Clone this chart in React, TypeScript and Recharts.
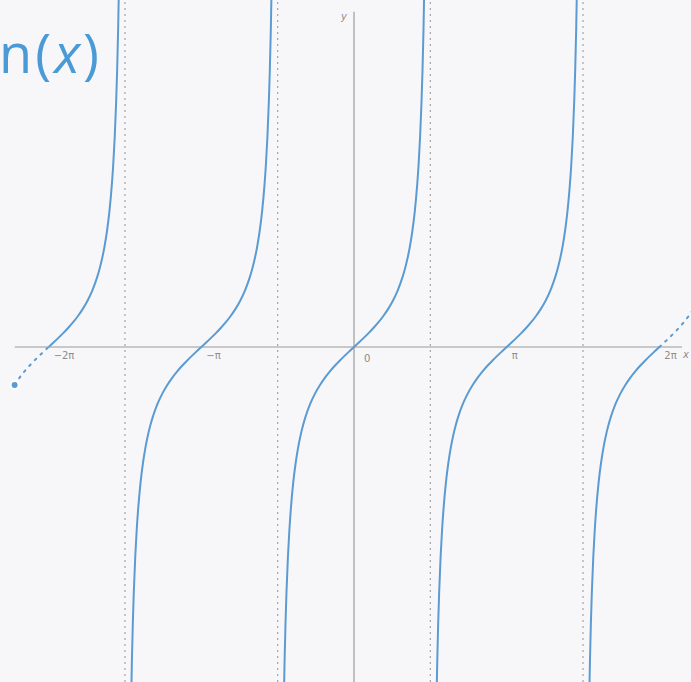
import React from 'react';
import { LineChart, Line, XAxis, YAxis, ReferenceLine, ReferenceDot } from 'recharts';

const PI = Math.PI;

// Tabulated tan(u) on the right half of one branch (u from 0 toward π/2).
const halfOffsets = [0, 0.1, 0.2, 0.3, 0.4, 0.5, 0.6, 0.7, 0.8, 0.9, 1.0, 1.05, 1.1, 1.15, 1.2, 1.25, 1.3, 1.33, 1.36, 1.39, 1.41, 1.43, 1.45, 1.47];
const halfValues = [0, 0.1003, 0.2027, 0.3093, 0.4228, 0.5463, 0.6841, 0.8423, 1.0296, 1.2602, 1.5574, 1.7433, 1.9648, 2.2345, 2.5722, 3.0096, 3.6021, 4.072, 4.673, 5.471, 6.165, 7.056, 8.238, 9.887];

// Branch centres, asymptotes and tick positions in multiples of π.
const branchCenters = [-2, -1, 0, 1, 2];
const asymptotes = [-1.5, -0.5, 0.5, 1.5];
const tickMultiples = [-2, -1, 0, 1, 2];
const tickLabels = ['−2π', '−π', '0', 'π', '2π'];

const xDomain: [number, number] = [-7.284, 6.934];
const yDomain: [number, number] = [-7.444, 7.711];
const xAxisSpan = [-6.98, 6.75];
const yAxisSpan = [-7.444, 7.45];
const dottedStart = -6.98;

const W = 691;
const H = 682;
const CURVE = '#5b9bd2';
const AXIS = '#9a9a9a';

type Pt = { x: number; y: number };

function branch(center: number): Pt[] {
  const left: Pt[] = [];
  for (let i = halfOffsets.length - 1; i > 0; i--) {
    left.push({ x: center * PI - halfOffsets[i], y: -halfValues[i] });
  }
  const right: Pt[] = halfOffsets.map((u, i) => ({ x: center * PI + u, y: halfValues[i] }));
  return [...left, ...right];
}

const solidSegments: Pt[][] = branchCenters.map((c) => {
  const pts = branch(c);
  if (c === -2) return pts.filter((p) => p.x >= c * PI - 1e-9);
  if (c === 2) return pts.filter((p) => p.x <= c * PI + 1e-9);
  return pts;
});

const dottedSegments: Pt[][] = [
  branch(-2).filter((p) => p.x <= -2 * PI + 1e-9 && p.x >= dottedStart - 0.01),
  branch(2).filter((p) => p.x >= 2 * PI - 1e-9),
];

const TickText = (label: string, dx: number, dy: number) => (props: any) => {
  const vb = props.viewBox || {};
  const cx = (vb.x ?? 0) + (vb.width ?? 0) / 2;
  const cy = (vb.y ?? 0) + (vb.height ?? 0) / 2;
  return (
    <text x={cx + dx} y={cy + dy} fontSize={10} fill="#8c8c8c" fontFamily="DejaVu Sans" textAnchor="start">
      {label}
    </text>
  );
};

export default function App() {
  return (
    <div style={{ position: 'absolute', left: 0, top: 0, width: W, height: H, background: '#f7f7f9', overflow: 'hidden' }}>
      <LineChart width={W} height={H} margin={{ top: 0, right: 0, bottom: 0, left: 0 }}>
        <XAxis type="number" dataKey="x" domain={xDomain} allowDataOverflow hide />
        <YAxis type="number" dataKey="y" domain={yDomain} allowDataOverflow hide />
        <ReferenceLine segment={[{ x: xAxisSpan[0], y: 0 }, { x: xAxisSpan[1], y: 0 }]} stroke={AXIS} strokeWidth={1.2} ifOverflow="visible" />
        <ReferenceLine segment={[{ x: 0, y: yAxisSpan[0] }, { x: 0, y: yAxisSpan[1] }]} stroke={AXIS} strokeWidth={1.2} ifOverflow="visible" />
        {asymptotes.map((m) => (
          <ReferenceLine key={m} x={m * PI} stroke="#a4a4a4" strokeWidth={1.2} strokeDasharray="2 4" />
        ))}
        {tickMultiples.map((m, i) => (
          <ReferenceDot
            key={m}
            x={m * PI}
            y={0}
            r={0}
            fill="none"
            stroke="none"
            label={{ content: TickText(tickLabels[i], m === 0 ? 10 : 5, m === 0 ? 15 : 12) }}
          />
        ))}
        {solidSegments.map((pts, i) => (
          <Line
            key={`s${i}`}
            data={pts}
            dataKey="y"
            type="monotone"
            stroke={CURVE}
            strokeWidth={2}
            dot={false}
            isAnimationActive={false}
          />
        ))}
        {dottedSegments.map((pts, i) => (
          <Line
            key={`d${i}`}
            data={pts}
            dataKey="y"
            type="monotone"
            stroke={CURVE}
            strokeWidth={2}
            strokeDasharray="2 6"
            strokeLinecap="round"
            dot={false}
            isAnimationActive={false}
          />
        ))}
      </LineChart>
      <svg width={W} height={H} style={{ position: 'absolute', left: 0, top: 0, pointerEvents: 'none' }}>
        <text x={102} y={73} textAnchor="end" fontSize={54} letterSpacing={3} fill="#4a9ad6" fontFamily="Open Sans">
          tan(<tspan fontStyle="italic">x</tspan>)
        </text>
        <text x={341} y={20} fontSize={10} fontStyle="italic" fill="#8c8c8c" fontFamily="DejaVu Sans">y</text>
        <text x={683} y={358} fontSize={10} fontStyle="italic" fill="#8c8c8c" fontFamily="DejaVu Sans">x</text>
      </svg>
    </div>
  );
}
